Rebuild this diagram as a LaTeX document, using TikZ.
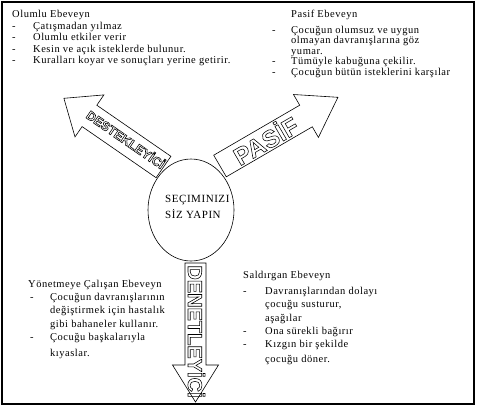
\documentclass[tikz,border=0pt]{standalone}
\usepackage{fontspec}
\setmainfont{Liberation Serif}[LetterSpace=5]
\newfontfamily\arrowfont{Liberation Sans}
\usetikzlibrary{shapes.geometric}
\newcommand{\hollowtext}[1]{\special{pdf:literal direct 1 Tr 0.55 w 0 G}#1\special{pdf:literal direct 0 Tr}}
\begin{document}
\begin{tikzpicture}[x=1pt,y=-1pt,
  frame/.style={draw,line width=1.5pt},
  blockarrow/.style={draw,line width=0.6pt,fill=white,line join=miter},
  block/.style={inner sep=0pt,anchor=base west},
  arrowtext/.style={inner sep=0pt,anchor=base},
]
\useasboundingbox (0,0) rectangle (478,408);
\draw[frame] (2,2) rectangle (474,404);

% DESTEKLEYICI arrow
\draw[blockarrow] (170.9,156.3) -- (96.8,105.2) -- (103.9,94.9) -- (63.9,98.3)
  -- (75.0,136.9) -- (82.1,126.6) -- (156.1,177.7) -- cycle;
% PASIF arrow
\draw[blockarrow] (213.7,155.2) -- (299.7,105.2) -- (293.5,94.5) -- (337.9,97.3)
  -- (318.4,137.4) -- (312.3,126.8) -- (226.3,176.8) -- cycle;
% DENETLEYICI arrow
\draw[blockarrow] (185,263) -- (185,365) -- (172.5,365) -- (195.5,402)
  -- (218.5,365) -- (206,365) -- (206,263) -- cycle;

\node[arrowtext,rotate=-34.6,font=\arrowfont\bfseries\fontsize{12.6}{12.6}\selectfont]
  (destek) at (123,143.4) {\hollowtext{DESTEKLEYİCİ}};
\node[arrowtext,rotate=30.2,font=\arrowfont\bfseries\fontsize{24.5}{24.5}\selectfont]
  (pasif) at (270.4,148.6) {\hollowtext{PASİF}};
\node[arrowtext,rotate=-90,font=\arrowfont\bfseries\fontsize{20}{20}\selectfont]
  (denet) at (188,331.5) {\hollowtext{DENETLEYİCİ}};

\node[draw,ellipse,fill=white,minimum width=86pt,minimum height=102pt,inner sep=0pt,line width=0.6pt]
  (choice) at (191,210) {};
\node[block,font=\fontsize{11}{16}\selectfont] (choicetext) at (165,202)
  {\begin{tabular}[t]{@{}l@{}}SEÇIMINIZI\\SİZ YAPIN\end{tabular}};

\node[block,font=\fontsize{10.5}{11.5}\selectfont] (olumlu) at (12,17.5)
{\begin{tabular}[t]{@{}p{21pt}@{}l@{}}
\multicolumn{2}{@{}l@{}}{Olumlu Ebeveyn}\\
-&Çatışmadan yılmaz\\
-&Olumlu etkiler verir\\
-&Kesin ve açık isteklerde bulunur.\\
-&Kuralları koyar ve sonuçları yerine getirir.
\end{tabular}};

\node[block,font=\fontsize{10.5}{10.6}\selectfont] (pasifblock) at (272,17)
{\begin{tabular}[t]{@{}p{19pt}@{}l@{}}
&Pasif Ebeveyn\\[5.5pt]
-&Çocuğun olumsuz ve uygun\\
&olmayan davranışlarına göz\\
&yumar.\\
-&Tümüyle kabuğuna çekilir.\\
-&Çocuğun bütün isteklerini karşılar
\end{tabular}};

\node[block,font=\fontsize{10.5}{13.2}\selectfont] (yonet) at (28,287.5)
{\begin{tabular}[t]{@{}p{22pt}@{}l@{}}
\multicolumn{2}{@{}l@{}}{Yönetmeye Çalışan Ebeveyn}\\
\hspace{2pt}-&Çocuğun davranışlarının\\
&değiştirmek için hastalık\\
&gibi bahaneler kullanır.\\
\hspace{2pt}-&Çocuğu başkalarıyla\\[3pt]
&kıyaslar.
\end{tabular}};

\node[block,font=\fontsize{10.5}{13.2}\selectfont] (saldir) at (243,278.5)
{\begin{tabular}[t]{@{}p{22pt}@{}l@{}}
\multicolumn{2}{@{}l@{}}{Saldırgan Ebeveyn}\\[3pt]
-&Davranışlarından dolayı\\
&çocuğu susturur,\\
&aşağılar\\
-&Ona sürekli bağırır\\
-&Kızgın bir şekilde\\[1.5pt]
&çocuğu döner.
\end{tabular}};
\end{tikzpicture}
\end{document}
